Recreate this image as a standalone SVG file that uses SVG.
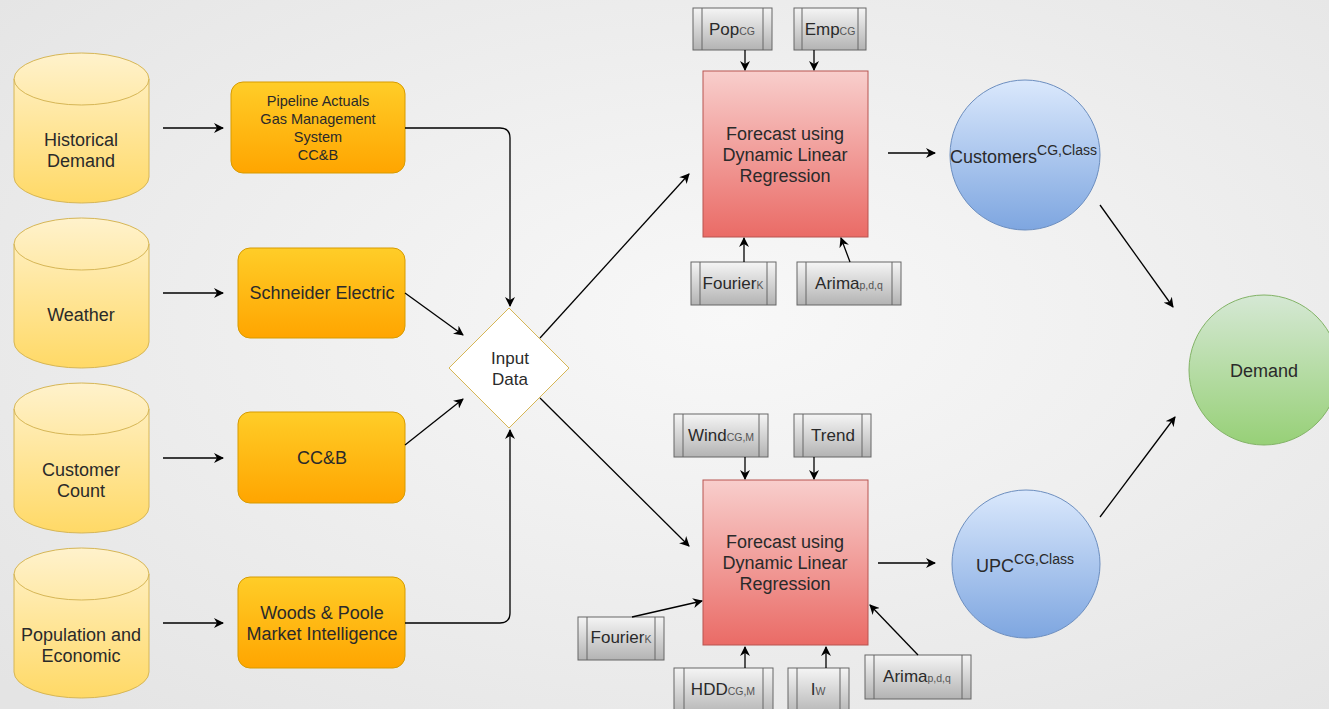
<svg xmlns="http://www.w3.org/2000/svg" width="1329" height="709" viewBox="0 0 1329 709">
<defs>
<radialGradient id="bg" cx="0.55" cy="0.45" r="0.75">
<stop offset="0" stop-color="#f8f8f8"/><stop offset="1" stop-color="#e4e4e4"/>
</radialGradient>
<linearGradient id="gCyl" x1="0" y1="0" x2="0" y2="1"><stop offset="0" stop-color="#fff2cc"/><stop offset="1" stop-color="#ffd966"/></linearGradient>
<linearGradient id="gOr" x1="0" y1="0" x2="0" y2="1"><stop offset="0" stop-color="#ffcd28"/><stop offset="1" stop-color="#ffa500"/></linearGradient>
<linearGradient id="gRed" x1="0" y1="0" x2="0" y2="1"><stop offset="0" stop-color="#f8cecc"/><stop offset="1" stop-color="#ea6b66"/></linearGradient>
<linearGradient id="gGray" x1="0" y1="0" x2="0" y2="1"><stop offset="0" stop-color="#f5f5f5"/><stop offset="1" stop-color="#b3b3b3"/></linearGradient>
<linearGradient id="gBlue" x1="0" y1="0" x2="0" y2="1"><stop offset="0" stop-color="#dae8fc"/><stop offset="1" stop-color="#7ea6e0"/></linearGradient>
<linearGradient id="gGreen" x1="0" y1="0" x2="0" y2="1"><stop offset="0" stop-color="#d5e8d4"/><stop offset="1" stop-color="#97d077"/></linearGradient>
<marker id="ah" viewBox="0 0 10 10" refX="9" refY="5" markerWidth="10" markerHeight="10" markerUnits="userSpaceOnUse" orient="auto">
<path d="M0,0 L10,5 L0,10 L3,5 Z" fill="#000"/>
</marker>
<path id="cyl" d="M14,79 A67.5,26 0 0 1 149,79 V177 A67.5,26 0 0 1 14,177 Z"/>
</defs>
<style>
text{font-family:"Liberation Sans",Arial,sans-serif;fill:#2a2a2a;text-anchor:middle}
.cyl{fill:url(#gCyl);stroke:#d6b656;stroke-width:1}
.cyltop{fill:none;stroke:#d6b656;stroke-width:1}
.or{fill:url(#gOr);stroke:#d79b00;stroke-width:1}
.red{fill:url(#gRed);stroke:#b85450;stroke-width:1}
.gray{fill:url(#gGray);stroke:#666;stroke-width:1}
.gl{stroke:#666;stroke-width:1}
.blue{fill:url(#gBlue);stroke:#6c8ebf;stroke-width:1}
.green{fill:url(#gGreen);stroke:#82b366;stroke-width:1}
.c{fill:none;stroke:#000;stroke-width:1.3;marker-end:url(#ah)}
.t18{font-size:18px}
.t17{font-size:17px}
.t15{font-size:14.5px}
.sm{font-size:10.5px;fill:#555}
.sup{font-size:14px}
</style>
<rect width="1329" height="709" fill="url(#bg)"/>

<g id="cyl-historical">
<use href="#cyl" class="cyl"/><path d="M14,79 A67.5,26 0 0 0 149,79" class="cyltop"/>
<text class="t18" x="81" y="146">Historical</text><text class="t18" x="81" y="167">Demand</text>
</g>
<g id="cyl-weather" transform="translate(0,165)">
<use href="#cyl" class="cyl"/><path d="M14,79 A67.5,26 0 0 0 149,79" class="cyltop"/>
<text class="t18" x="81" y="156">Weather</text>
</g>
<g id="cyl-customer" transform="translate(0,330)">
<use href="#cyl" class="cyl"/><path d="M14,79 A67.5,26 0 0 0 149,79" class="cyltop"/>
<text class="t18" x="81" y="146">Customer</text><text class="t18" x="81" y="167">Count</text>
</g>
<g id="cyl-population" transform="translate(0,495)">
<use href="#cyl" class="cyl"/><path d="M14,79 A67.5,26 0 0 0 149,79" class="cyltop"/>
<text class="t18" x="81" y="146">Population and</text><text class="t18" x="81" y="167">Economic</text>
</g>

<g id="box-pipeline">
<rect x="231" y="82" width="174" height="91" rx="12" class="or"/>
<text class="t15" x="318" y="106">Pipeline Actuals</text>
<text class="t15" x="318" y="124">Gas Management</text>
<text class="t15" x="318" y="142">System</text>
<text class="t15" x="318" y="160">CC&amp;B</text>
</g>
<g id="box-schneider">
<rect x="238" y="248" width="167" height="90" rx="12" class="or"/>
<text class="t18" x="322" y="299">Schneider Electric</text>
</g>
<g id="box-ccb">
<rect x="238" y="412" width="167" height="91" rx="12" class="or"/>
<text class="t18" x="322" y="464">CC&amp;B</text>
</g>
<g id="box-woods">
<rect x="238" y="577" width="167" height="91" rx="12" class="or"/>
<text class="t18" x="322" y="619">Woods &amp; Poole</text>
<text class="t18" x="322" y="640">Market Intelligence</text>
</g>

<g id="input-data">
<path d="M509,308 L569,368 L509,428 L449,368 Z" fill="#fff" stroke="#d6b656"/>
<text class="t17" x="510" y="364">Input</text>
<text class="t17" x="510" y="385">Data</text>
</g>

<g id="forecast-1">
<rect x="703" y="71" width="165" height="166" class="red"/>
<text class="t18" x="785" y="140">Forecast using</text>
<text class="t18" x="785" y="161">Dynamic Linear</text>
<text class="t18" x="785" y="182">Regression</text>
</g>
<g id="forecast-2">
<rect x="703" y="480" width="165" height="165" class="red"/>
<text class="t18" x="785" y="548">Forecast using</text>
<text class="t18" x="785" y="569">Dynamic Linear</text>
<text class="t18" x="785" y="590">Regression</text>
</g>

<g id="pop">
<rect x="693" y="8" width="79" height="42" class="gray"/><line x1="702" y1="8" x2="702" y2="50" class="gl"/><line x1="763" y1="8" x2="763" y2="50" class="gl"/>
<text class="t17" x="732" y="35">Pop<tspan class="sm">CG</tspan></text>
</g>
<g id="emp">
<rect x="794" y="8" width="72" height="42" class="gray"/><line x1="802" y1="8" x2="802" y2="50" class="gl"/><line x1="858" y1="8" x2="858" y2="50" class="gl"/>
<text class="t17" x="830" y="35">Emp<tspan class="sm">CG</tspan></text>
</g>
<g id="fourier-1">
<rect x="691" y="262" width="85" height="43" class="gray"/><line x1="700" y1="262" x2="700" y2="305" class="gl"/><line x1="767" y1="262" x2="767" y2="305" class="gl"/>
<text class="t17" x="733" y="289">Fourier<tspan class="sm">K</tspan></text>
</g>
<g id="arima-1">
<rect x="797" y="262" width="104" height="43" class="gray"/><line x1="806" y1="262" x2="806" y2="305" class="gl"/><line x1="892" y1="262" x2="892" y2="305" class="gl"/>
<text class="t17" x="849" y="289">Arima<tspan class="sm">p,d,q</tspan></text>
</g>
<g id="wind">
<rect x="674" y="414" width="94" height="43" class="gray"/><line x1="683" y1="414" x2="683" y2="457" class="gl"/><line x1="759" y1="414" x2="759" y2="457" class="gl"/>
<text class="t17" x="721" y="441">Wind<tspan class="sm">CG,M</tspan></text>
</g>
<g id="trend">
<rect x="794" y="414" width="77" height="43" class="gray"/><line x1="803" y1="414" x2="803" y2="457" class="gl"/><line x1="862" y1="414" x2="862" y2="457" class="gl"/>
<text class="t17" x="833" y="441">Trend</text>
</g>
<g id="fourier-2">
<rect x="578" y="617" width="86" height="43" class="gray"/><line x1="587" y1="617" x2="587" y2="660" class="gl"/><line x1="655" y1="617" x2="655" y2="660" class="gl"/>
<text class="t17" x="621" y="643">Fourier<tspan class="sm">K</tspan></text>
</g>
<g id="hdd">
<rect x="674" y="668" width="99" height="48" class="gray"/><line x1="684" y1="668" x2="684" y2="716" class="gl"/><line x1="763" y1="668" x2="763" y2="716" class="gl"/>
<text class="t17" x="723" y="695">HDD<tspan class="sm">CG,M</tspan></text>
</g>
<g id="iw">
<rect x="788" y="668" width="61" height="48" class="gray"/><line x1="797" y1="668" x2="797" y2="716" class="gl"/><line x1="840" y1="668" x2="840" y2="716" class="gl"/>
<text class="t17" x="818" y="695">I<tspan class="sm">W</tspan></text>
</g>
<g id="arima-2">
<rect x="865" y="655" width="106" height="44" class="gray"/><line x1="874" y1="655" x2="874" y2="699" class="gl"/><line x1="962" y1="655" x2="962" y2="699" class="gl"/>
<text class="t17" x="917" y="682">Arima<tspan class="sm">p,d,q</tspan></text>
</g>

<g id="customers">
<circle cx="1025" cy="155" r="75" class="blue"/>
<text class="t18" x="950" y="163" style="text-anchor:start">Customers<tspan class="sup" dy="-8">CG,Class</tspan></text>
</g>
<g id="upc">
<circle cx="1026" cy="564" r="74" class="blue"/>
<text class="t18" x="976" y="572" style="text-anchor:start">UPC<tspan class="sup" dy="-8">CG,Class</tspan></text>
</g>
<g id="demand">
<circle cx="1264" cy="370" r="75" class="green"/>
<text class="t18" x="1264" y="377">Demand</text>
</g>

<g id="connectors">
<line x1="163" y1="128" x2="223" y2="128" class="c"/>
<line x1="163" y1="293" x2="223" y2="293" class="c"/>
<line x1="163" y1="458" x2="223" y2="458" class="c"/>
<line x1="163" y1="623" x2="223" y2="623" class="c"/>
<path d="M405,128 H500 Q510,128 510,138 V306" class="c"/>
<path d="M405,293 L463,335" class="c"/>
<path d="M405,445 L463,399" class="c"/>
<path d="M405,623 H500 Q510,623 510,613 V430" class="c"/>
<path d="M540,338 L689,174" class="c"/>
<path d="M540,398 L689,546" class="c"/>
<path d="M745,50 V70" class="c"/>
<path d="M814,50 V70" class="c"/>
<path d="M744,262 V238" class="c"/>
<path d="M850,262 L841,238" class="c"/>
<path d="M745,457 V479" class="c"/>
<path d="M814,457 V479" class="c"/>
<path d="M632,617 L702,601" class="c"/>
<path d="M745,668 V647" class="c"/>
<path d="M826,668 V647" class="c"/>
<path d="M918,655 L870,605" class="c"/>
<path d="M888,153 H935" class="c"/>
<path d="M878,563 H935" class="c"/>
<path d="M1100,205 L1173,307" class="c"/>
<path d="M1100,517 L1175,417" class="c"/>
</g>
</svg>
